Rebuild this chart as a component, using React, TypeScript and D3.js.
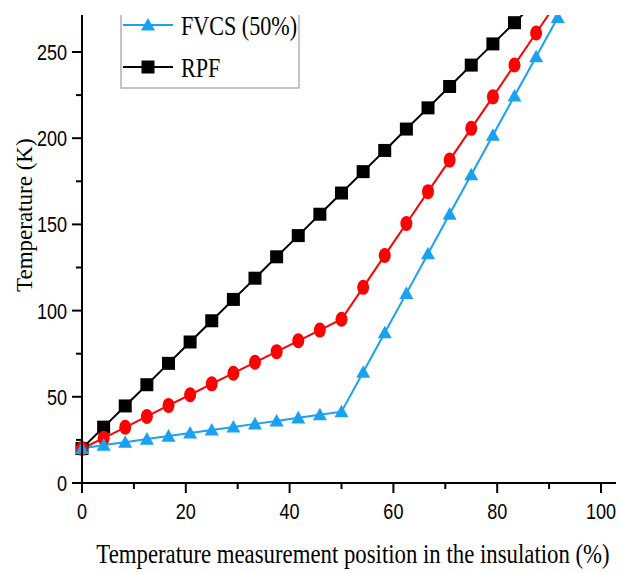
import React from "react";
import * as d3 from "d3";

const positions = [0, 4.17, 8.33, 12.5, 16.67, 20.83, 25, 29.17, 33.33, 37.5, 41.67, 45.83, 50, 54.17, 58.33, 62.5, 66.67, 70.83, 75, 79.17, 83.33, 87.5, 91.67, 95.83];
const rpf = [20, 32.4, 44.7, 57, 69.4, 81.8, 94.1, 106.5, 118.8, 131.2, 143.5, 155.9, 168.2, 180.6, 192.9, 205.3, 217.6, 230, 242.4, 254.7, 267, 279.5];
const redSeries = [20, 26, 32.3, 38.6, 45, 51.2, 57.5, 63.7, 70, 76.2, 82.5, 88.7, 95, 113.5, 132, 150.5, 169, 187.3, 205.7, 224, 242.5, 261, 279.5];
const fvcs50 = [20, 22, 23.7, 25.5, 27.2, 29, 30.8, 32.5, 34.3, 36, 37.8, 39.6, 41.4, 64.3, 87.2, 110, 133, 156, 178.8, 201.7, 224.5, 247.3, 270, 293];

const xMajor = [0, 20, 40, 60, 80, 100];
const xMinor = [10, 30, 50, 70, 90];
const yMajor = [0, 50, 100, 150, 200, 250];
const yMinor = [25, 75, 125, 175, 225, 275];

const xTitle = "Temperature measurement position in the insulation (%)";
const yTitle = "Temperature (K)";
const legendNames = ["FVCS (50%)", "RPF"];

const BLUE = "#1ba1f2";
const RED = "#ff0000";
const BLACK = "#000000";
const SX = 0.82;
const SERIF = "'Liberation Serif', 'Times New Roman', serif";
const SANS = "'Liberation Sans', Arial, sans-serif";

export default function App() {
  const W = 619, H = 573;
  const x = d3.scaleLinear().domain([0, 100]).range([82, 601]);
  const y = d3.scaleLinear().domain([0, 250]).range([483, 52]);
  const topClip = 15;
  const axisRight = 616;

  const line = d3.line<number>().x((_, i) => x(positions[i])).y((d) => y(d));

  const tri = (cx: number, cy: number, s = 7) =>
    `M${cx},${cy - s}L${cx + s},${cy + s * 0.8}L${cx - s},${cy + s * 0.8}Z`;

  return (
    <svg width={W} height={H} style={{ display: "block", position: "absolute", left: 0, top: 0, background: "#fff" }}>
      <defs>
        <clipPath id="clipTop">
          <rect x={0} y={topClip} width={W} height={H - topClip} />
        </clipPath>
      </defs>
      <rect width={W} height={H} fill="#fff" />
      <g clipPath="url(#clipTop)">
        <path d={line(rpf) || ""} fill="none" stroke={BLACK} strokeWidth={2} />
        <path d={line(redSeries) || ""} fill="none" stroke={RED} strokeWidth={2} />
        <path d={line(fvcs50) || ""} fill="none" stroke={BLUE} strokeWidth={2} />
        {rpf.map((v, i) => (
          <rect key={"s" + i} x={x(positions[i]) - 6.5} y={y(v) - 6.5} width={13} height={13} fill={BLACK} />
        ))}
        {redSeries.map((v, i) => (
          <ellipse key={"c" + i} cx={x(positions[i])} cy={y(v)} rx={6} ry={7.5} fill={RED} />
        ))}
        {fvcs50.map((v, i) => (
          <path key={"t" + i} d={tri(x(positions[i]), y(v))} fill={BLUE} />
        ))}

        {/* legend */}
        <rect x={121} y={-10} width={178} height={98} fill="none" stroke="#8a8a8a" strokeWidth={1} />
        <line x1={123} x2={173} y1={25} y2={25} stroke={BLUE} strokeWidth={2} />
        <path d={tri(148, 25)} fill={BLUE} />
        <text transform={`translate(181,35) scale(${SX},1)`} fontFamily={SERIF} fontSize={27} fill="#000">
          {legendNames[0]}
        </text>
        <line x1={123} x2={173} y1={67} y2={67} stroke={BLACK} strokeWidth={2} />
        <rect x={141.5} y={60.5} width={13} height={13} fill={BLACK} />
        <text transform={`translate(181,77) scale(${SX},1)`} fontFamily={SERIF} fontSize={27} fill="#000">
          {legendNames[1]}
        </text>

        {/* axes */}
        <line x1={x(0)} x2={x(0)} y1={0} y2={483} stroke="#000" strokeWidth={2} />
        <line x1={x(0) - 1} x2={axisRight} y1={483} y2={483} stroke="#000" strokeWidth={2} />
        {yMajor.map((v) => (
          <g key={"ym" + v}>
            <line x1={x(0) - 10} x2={x(0)} y1={y(v)} y2={y(v)} stroke="#000" strokeWidth={2} />
            <text transform={`translate(67,${y(v) + 8}) scale(${SX},1)`} textAnchor="end" fontFamily={SANS} fontSize={22} fill="#000">
              {v}
            </text>
          </g>
        ))}
        {yMinor.map((v) => (
          <line key={"yn" + v} x1={x(0) - 6} x2={x(0)} y1={y(v)} y2={y(v)} stroke="#000" strokeWidth={2} />
        ))}
        {xMajor.map((v) => (
          <g key={"xm" + v}>
            <line x1={x(v)} x2={x(v)} y1={483} y2={493} stroke="#000" strokeWidth={2} />
            <text transform={`translate(${x(v)},519) scale(${SX},1)`} textAnchor="middle" fontFamily={SANS} fontSize={22} fill="#000">
              {v}
            </text>
          </g>
        ))}
        {xMinor.map((v) => (
          <line key={"xn" + v} x1={x(v)} x2={x(v)} y1={483} y2={489} stroke="#000" strokeWidth={2} />
        ))}
      </g>

      <text transform="translate(353,563) scale(0.86,1)" textAnchor="middle" fontFamily={SERIF} fontSize={26.5} fill="#000">
        {xTitle}
      </text>
      <text transform={`translate(32,292) rotate(-90)`} fontFamily={SERIF} fontSize={23} fill="#000">
        {yTitle}
      </text>
    </svg>
  );
}
